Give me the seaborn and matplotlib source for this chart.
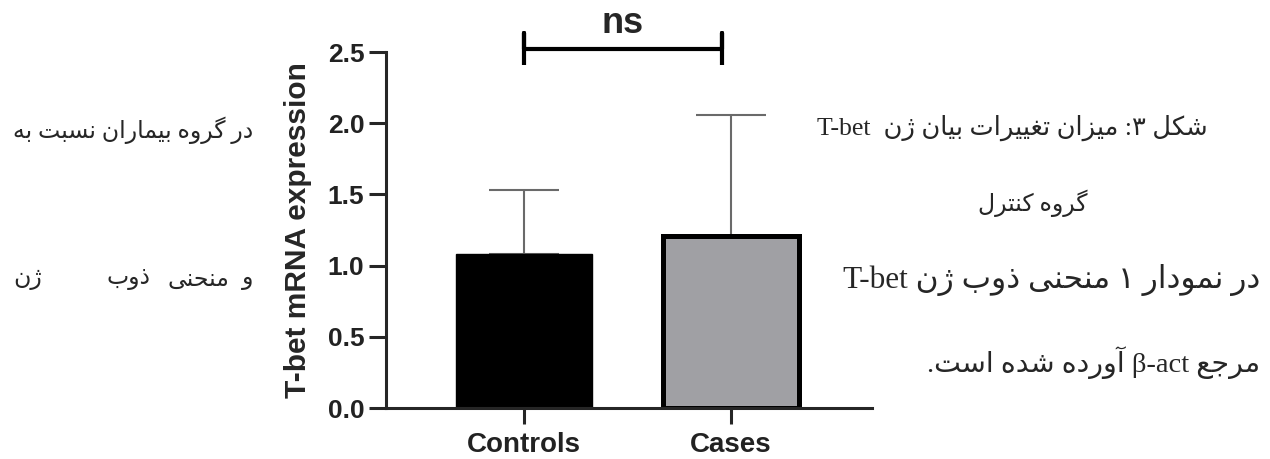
import re
import pandas as pd
import matplotlib
matplotlib.use('Agg')
import matplotlib.pyplot as plt
import seaborn as sns

# data
groups = ['Controls', 'Cases']
means = [1.08, 1.21]
upper = [1.53, 2.06]          # top of the (upper only) error bars
bar_colors = ['#000000', '#a0a0a4']
ytick_vals = [0.0, 0.5, 1.0, 1.5, 2.0, 2.5]
sig_label = 'ns'

# persian text of the page around the figure
left_line1 = 'در گروه بیماران نسبت به'
left_line2 = ['و', 'منحنی', 'ذوب', 'ژن']
right_line1 = 'شکل ۳: میزان تغییرات بیان ژن  T-bet'
right_line2 = 'گروه کنترل'
right_line3 = 'در نمودار ۱ منحنی ذوب ژن T-bet'
right_line4 = 'مرجع β-act آورده شده است.'

# --- tiny persian shaping + rtl ordering (matplotlib does neither) ---
# isolated, final, initial, medial
FORMS = {
    'ا': ('\uFE8D', '\uFE8E', None, None),
    'آ': ('\uFE81', '\uFE82', None, None),
    'ب': ('\uFE8F', '\uFE90', '\uFE91', '\uFE92'),
    'ت': ('\uFE95', '\uFE96', '\uFE97', '\uFE98'),
    'ج': ('\uFE9D', '\uFE9E', '\uFE9F', '\uFEA0'),
    'ح': ('\uFEA1', '\uFEA2', '\uFEA3', '\uFEA4'),
    'د': ('\uFEA9', '\uFEAA', None, None),
    'ذ': ('\uFEAB', '\uFEAC', None, None),
    'ر': ('\uFEAD', '\uFEAE', None, None),
    'ز': ('\uFEAF', '\uFEB0', None, None),
    'ژ': ('\uFB8A', '\uFB8B', None, None),
    'س': ('\uFEB1', '\uFEB2', '\uFEB3', '\uFEB4'),
    'ش': ('\uFEB5', '\uFEB6', '\uFEB7', '\uFEB8'),
    'ع': ('\uFEC9', '\uFECA', '\uFECB', '\uFECC'),
    'غ': ('\uFECD', '\uFECE', '\uFECF', '\uFED0'),
    'ک': ('\uFB8E', '\uFB8F', '\uFB90', '\uFB91'),
    'گ': ('\uFB92', '\uFB93', '\uFB94', '\uFB95'),
    'ل': ('\uFEDD', '\uFEDE', '\uFEDF', '\uFEE0'),
    'م': ('\uFEE1', '\uFEE2', '\uFEE3', '\uFEE4'),
    'ن': ('\uFEE5', '\uFEE6', '\uFEE7', '\uFEE8'),
    'ه': ('\uFEE9', '\uFEEA', '\uFEEB', '\uFEEC'),
    'و': ('\uFEED', '\uFEEE', None, None),
    'ی': ('\uFBFC', '\uFBFD', '\uFBFE', '\uFBFF'),
}
LTR = r'[A-Za-z\u03b2][A-Za-z\u03b2\-]*'


def shape(s):
    out = []
    for i, ch in enumerate(s):
        f = FORMS.get(ch)
        if f is None:
            out.append(ch)
            continue
        prev = s[i - 1] if i > 0 else ''
        nxt = s[i + 1] if i + 1 < len(s) else ''
        jp = prev in FORMS and FORMS[prev][2] is not None
        jn = f[2] is not None and nxt in FORMS
        if jp and jn:
            out.append(f[3])
        elif jp:
            out.append(f[1])
        elif jn:
            out.append(f[2])
        else:
            out.append(f[0])
    return ''.join(out)


def fa(s):
    parts = re.split('(' + LTR + ')', shape(s))
    return ''.join(p if re.fullmatch(LTR, p) else p[::-1] for p in reversed(parts))


sns.set_theme(style='ticks')
plt.rcParams['font.family'] = ['Liberation Sans', 'DejaVu Sans']

W, H = 1270, 459
fig = plt.figure(figsize=(W / 100, H / 100), dpi=100)
ax = fig.add_axes([386 / W, 1 - 408 / H, (872 - 386) / W, (408 - 52) / H])

df = pd.DataFrame({'group': groups, 'mean': means})
sns.barplot(data=df, x='group', y='mean', hue='group', palette=bar_colors,
            width=0.657, errorbar=None, legend=False, ax=ax, zorder=2)
for p, lw in zip(ax.patches, [1.0, 3.6]):
    p.set_edgecolor('black')
    p.set_linewidth(lw)

err = [u - m for u, m in zip(upper, means)]
ax.errorbar(range(len(groups)), means, yerr=[[0] * len(groups), err], fmt='none',
            ecolor='#6a6a6a', elinewidth=1.5, capsize=25, capthick=1.5, zorder=1)

ax.set_xlim(-0.667, 1.681)
ax.set_ylim(0, 2.5)
ax.set_yticks(ytick_vals)
ax.set_yticklabels([f'{v:.1f}' for v in ytick_vals])
ax.set_xlabel('')
ax.set_ylabel('T-bet mRNA expression', fontsize=21.5, fontweight='bold')
ax.yaxis.set_label_coords(-0.152, 0.5)
sns.despine(ax=ax)
for s in ['left', 'bottom']:
    ax.spines[s].set_linewidth(2.2)
ax.tick_params(axis='y', length=12, width=2.2, labelsize=19, pad=3.5)
ax.tick_params(axis='x', length=11.5, width=2.2, labelsize=20, pad=6)
for t in ax.get_xticklabels() + ax.get_yticklabels():
    t.set_fontweight('bold')
    t.set_color('#222222')

# significance bracket
by, bh = 2.52, 0.11
ax.plot([0, 0, 0, 0.957, 0.957, 0.957], [by - bh, by + bh, by, by, by + bh, by - bh],
        color='black', lw=3, clip_on=False, solid_capstyle='butt')
ax.text(0.478, by + 0.11, sig_label, ha='center', va='baseline', fontsize=26,
        fontweight='bold', clip_on=False)

# surrounding persian text
ffam = ['Liberation Serif', 'DejaVu Sans']


def put(x, y, s, size, ha):
    fig.text(x / W, 1 - y / H, fa(s), ha=ha, va='center', fontsize=size, family=ffam)


put(253, 130, left_line1, 17, 'right')
put(253, 280, left_line2[0], 17, 'right')
put(198, 280, left_line2[1], 17, 'center')
put(128, 280, left_line2[2], 17, 'center')
put(13, 280, left_line2[3], 17, 'left')
put(1012, 128, right_line1, 18.5, 'center')
put(1033, 203, right_line2, 17, 'center')
put(1260, 280, right_line3, 22.5, 'right')
put(1260, 363, right_line4, 20.5, 'right')

fig.savefig('out.png', dpi=100)
